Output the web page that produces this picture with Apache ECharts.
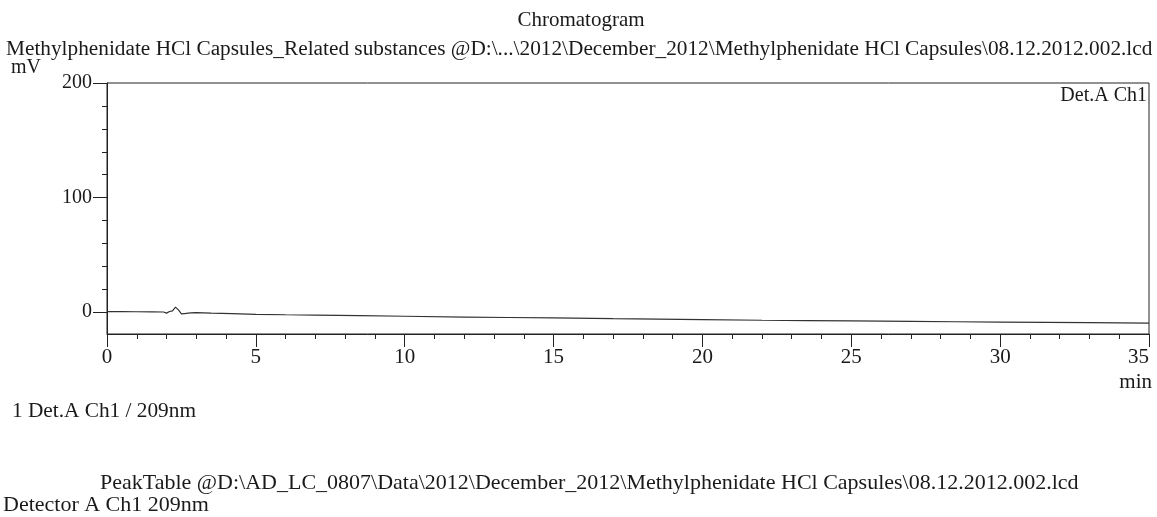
<!DOCTYPE html>
<html>
<head>
<meta charset="utf-8">
<script src="https://cdn.jsdelivr.net/npm/echarts@6/dist/echarts.min.js"></script>
<style>
html,body{margin:0;padding:0;background:#fff;}
#chart{width:1157px;height:517px;}
</style>
</head>
<body>
<div id="chart"></div>
<script>
// Retention time (min) and detector signal (mV)
const timeMin = [0, 0.5, 1.0, 1.5, 1.9, 2.0, 2.1, 2.2, 2.3, 2.4, 2.5, 2.6, 2.8, 3.0, 3.5, 4.2, 5, 6, 7, 8.5, 10, 12, 13.5, 15, 17, 18.5, 20, 22, 23.5, 25, 27, 28.5, 30, 31.5, 33, 34, 35];
const signalMV = [0.5, 0.5, 0.4, 0.3, 0.2, -0.8, 0.6, 1.2, 4.5, 2.0, -1.5, -1.2, -0.6, -0.4, -0.8, -1.2, -1.8, -2.2, -2.5, -3.0, -3.5, -4.2, -4.6, -5.0, -5.6, -6.0, -6.4, -7.0, -7.3, -7.6, -8.0, -8.3, -8.6, -8.8, -9.1, -9.3, -9.5];

const xMajorTicks = [0, 5, 10, 15, 20, 25, 30, 35];
const yMajorTicks = [0, 100, 200];
const yMinorTicks = [20, 40, 60, 80, 120, 140, 160, 180];

const titleText = 'Chromatogram';
const subtitleText = 'Methylphenidate HCl Capsules_Related substances @D:\\...\\2012\\December_2012\\Methylphenidate HCl Capsules\\08.12.2012.002.lcd';
const yUnitText = 'mV';
const xUnitText = 'min';
const channelText = 'Det.A Ch1';
const legendText = '1 Det.A Ch1 / 209nm';
const peakTableText = 'PeakTable @D:\\AD_LC_0807\\Data\\2012\\December_2012\\Methylphenidate HCl Capsules\\08.12.2012.002.lcd';
const detectorText = 'Detector A Ch1 209nm';

const FONT = '"Liberation Serif", "Times New Roman", serif';
const INK = '#1a1a1a';

const data = timeMin.map((t, i) => [t, signalMV[i]]);

function txt(text, x, y, align, size) {
  return {
    type: 'text', x: x, y: y, silent: true,
    style: { text: text, fill: INK, font: (size || 20) + 'px ' + FONT, textAlign: align || 'left', textVerticalAlign: 'middle' }
  };
}

const chart = echarts.init(document.getElementById('chart'), null, { renderer: 'canvas' });
chart.setOption({
  animation: false,
  backgroundColor: '#fff',
  grid: { left: 107, right: 8, top: 83, bottom: 183, outerBoundsMode: 'none', containLabel: false,
          show: true, borderColor: '#222', borderWidth: 1, backgroundColor: 'transparent' },
  xAxis: {
    type: 'value', min: 0, max: 35, interval: 5,
    axisLine: { show: true, onZero: false, lineStyle: { color: '#222', width: 1 } },
    axisTick: { show: true, inside: false, length: 13, lineStyle: { color: '#222' } },
    minorTick: { show: true, splitNumber: 5, length: 5, lineStyle: { color: '#222' } },
    splitLine: { show: false },
    minorSplitLine: { show: false },
    axisLabel: { color: INK, fontFamily: FONT, fontSize: 21, margin: 13, alignMaxLabel: 'right' }
  },
  yAxis: [
    {
      type: 'value', min: -19, max: 200, position: 'left',
      axisLine: { show: true, onZero: false, lineStyle: { color: '#222', width: 1 } },
      axisTick: { show: true, length: 5, customValues: yMinorTicks, lineStyle: { color: '#222' } },
      axisLabel: { show: false },
      splitLine: { show: false }
    },
    {
      type: 'value', min: -19, max: 200, position: 'left',
      axisLine: { show: false, onZero: false },
      axisTick: { show: true, length: 14, customValues: yMajorTicks, lineStyle: { color: '#222' } },
      axisLabel: { show: true, customValues: yMajorTicks, color: INK, fontFamily: FONT, fontSize: 20, margin: 15 },
      splitLine: { show: false }
    }
  ],
  series: [{
    type: 'line', data: data, showSymbol: false, symbol: 'none', yAxisIndex: 0,
    lineStyle: { color: '#333', width: 1.2 }
  }],
  graphic: [
    txt(titleText, 581, 20, 'center', 21),
    txt(subtitleText, 6, 49, 'left', 21.3),
    txt(yUnitText, 11, 68, 'left', 20),
    txt(channelText, 1147, 96, 'right', 20),
    txt(xUnitText, 1152, 382, 'right', 21),
    txt(legendText, 12, 411, 'left', 21.3),
    txt(peakTableText, 100, 483, 'left', 22),
    txt(detectorText, 3, 505, 'left', 22)
  ]
});
</script>
</body>
</html>
